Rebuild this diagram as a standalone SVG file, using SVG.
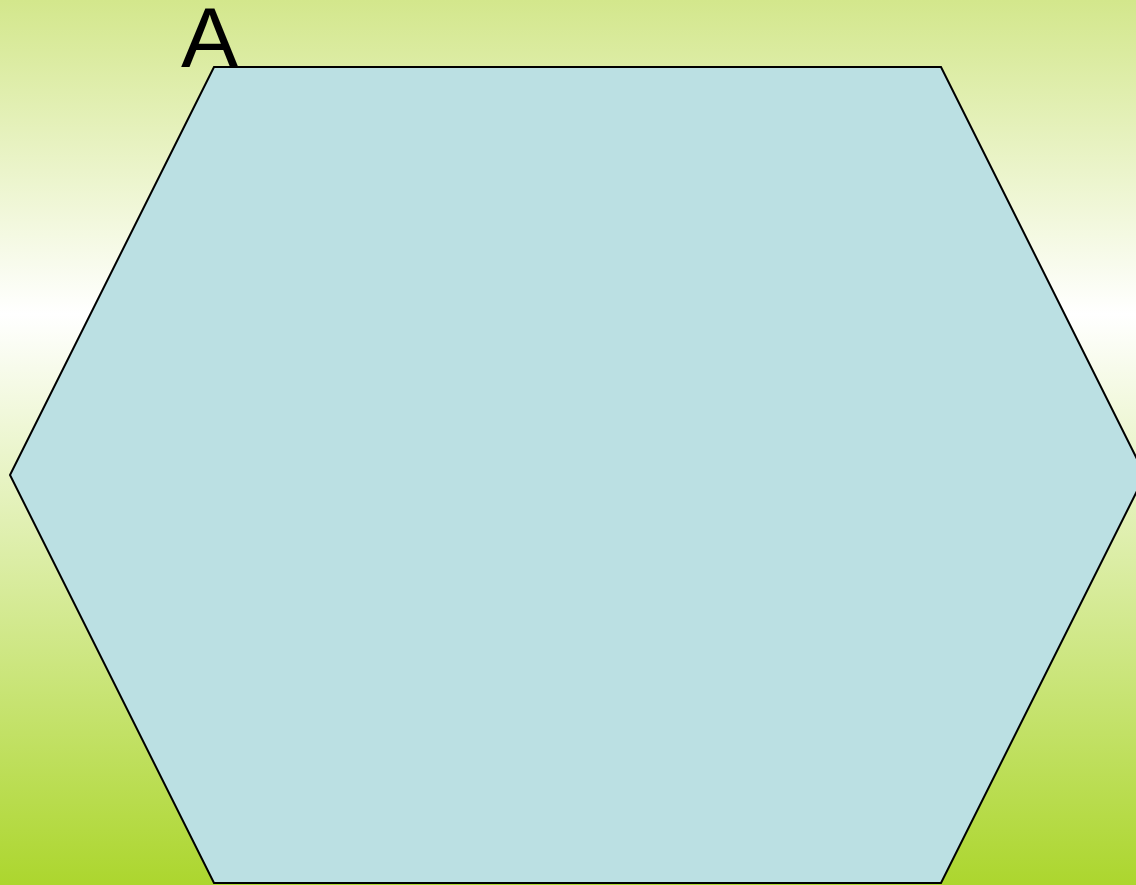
<svg xmlns="http://www.w3.org/2000/svg" width="1136" height="885" viewBox="0 0 1136 885">
<defs>
<linearGradient id="bg" x1="0" y1="0" x2="0" y2="1">
<stop offset="0" stop-color="#d3e78c"/>
<stop offset="0.355" stop-color="#ffffff"/>
<stop offset="1" stop-color="#acd62e"/>
</linearGradient>
<style>
.hex{fill:#bbe0e3;stroke:#000;stroke-width:2}
.lbl{font-family:"Liberation Sans",Arial,sans-serif;font-size:86px;fill:#000}
</style>
</defs>
<rect width="1136" height="885" fill="url(#bg)"/>
<g id="nodeA">
<polygon class="hex" points="214,67 941,67 1145,475 941,883 214,883 10,475"/>
<text class="lbl" x="181" y="67">A</text>
</g>
<g id="connectors"/>
</svg>
